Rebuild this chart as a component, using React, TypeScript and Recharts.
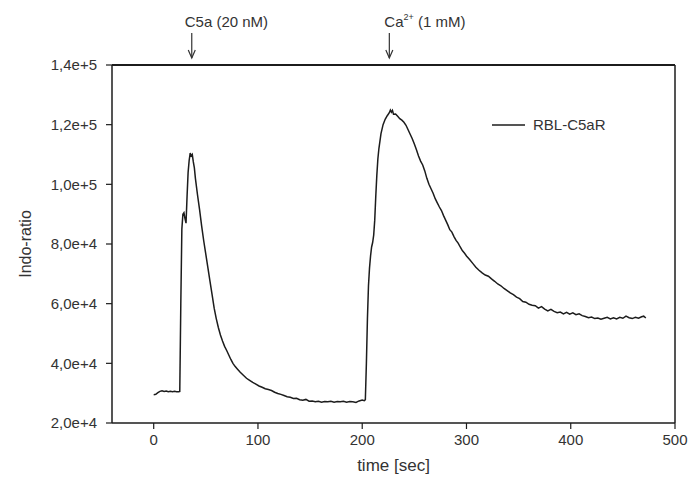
import React from 'react';
import { LineChart, Line, XAxis, YAxis, ReferenceLine, Legend } from 'recharts';

const seriesName = 'RBL-C5aR';

const times = [
  0, 2, 4, 6, 8, 10, 12, 14, 16, 18, 20, 22, 24, 25, 26, 27, 28, 29, 30, 31, 32, 33, 34, 35, 36, 37, 38, 39, 40,
  42, 44, 46, 48, 50, 52, 54, 56, 58, 60, 62, 64, 66, 68, 70, 72, 74, 76, 78, 80, 83, 86, 89, 92, 95, 98, 101,
  104, 107, 110, 113, 116, 119, 122, 125, 128, 131, 134, 137, 140, 143, 146, 149, 152, 155, 158, 161, 164, 167,
  170, 173, 176, 179, 182, 185, 188, 191, 194, 197, 200, 202, 203, 204, 205, 206, 207, 208, 209, 210, 211, 212,
  213, 214, 215, 216, 218, 220, 222, 224, 226, 227, 228, 229, 230, 232, 234, 236, 238, 240, 242, 244, 246, 248,
  250, 252, 254, 256, 258, 260, 262, 264, 266, 268, 270, 272, 274, 276, 278, 280, 282, 284, 286, 288, 290, 292,
  294, 296, 298, 300, 303, 306, 309, 312, 315, 318, 321, 324, 327, 330, 333, 336, 339, 342, 345, 348, 351, 354,
  357, 360, 363, 366, 369, 372, 375, 378, 381, 384, 387, 390, 393, 396, 399, 402, 405, 408, 411, 414, 417, 420,
  423, 426, 429, 432, 435, 438, 441, 444, 447, 450, 453, 456, 459, 462, 465, 468, 470, 472,
];

const ratios = [
  29500, 29600, 30200, 30600, 30800, 30600, 30700, 30500, 30600, 30500, 30600, 30500, 30500, 30600, 60000, 85000,
  90000, 90500, 88500, 87000, 96000, 104000, 108000, 110500, 109500, 110000, 107500, 105500, 102000,
  96500, 91500, 86000, 81000, 76500, 72000, 67500, 63000, 58500, 55000, 52000, 49500, 47500, 45700, 44300, 42800,
  41300, 40000, 39000, 38200, 37000, 36000, 35000, 34300, 33600, 33000, 32400,
  32000, 31500, 31200, 30900, 30300, 29900, 29600, 29200, 28800, 28600, 28200, 28300, 27800, 27600, 27900, 27300,
  27400, 27100, 27300, 27000, 27200, 27100,
  27300, 27000, 27200, 27100, 27300, 27000, 27200, 27100, 26900, 27400, 27700, 27500, 27800, 40000, 55000, 66000,
  72000, 76000, 79000, 80500, 83000, 88000,
  96000, 103000, 108500, 112000, 117000, 120000, 121800, 123000, 124000, 124900, 124200, 124800, 123500, 123600,
  122800, 122000, 121500, 120800, 119800, 118300, 116800, 115300,
  113500, 111600, 109500, 107800, 106500, 104500, 102000, 100000, 98500, 97000, 95200, 93800, 92400, 91200, 89500,
  88000, 86500, 84800, 84000, 82500, 81200, 80300,
  79000, 77800, 77000, 76000, 74800, 73500, 72200, 71200, 70300, 69600, 69200, 68300, 67500, 66600, 66000, 65100,
  64400, 63600, 63000, 62200, 61700, 60700,
  60500, 59800, 59500, 59300, 58500, 59000, 58200, 57600, 58100, 57400, 57000, 57200, 56600, 57100, 56500, 56900,
  56300, 56600, 56000, 55700, 55300, 55500,
  55000, 55200, 54800, 55100, 55400, 54900, 55300, 54900, 55400, 55100, 55800, 55300, 55000, 55400, 55100, 55600,
  55800, 55200,
];

const xTicks = [0, 100, 200, 300, 400, 500];
const yTicks = [20000, 40000, 60000, 80000, 100000, 120000, 140000];
const xDomain = [-40, 500];
const yDomain = [20000, 140000];

const stimulusTimes = [36.5, 226];
const stimulusLabels = ['C5a (20 nM)', 'Ca2+ (1 mM)'];

const data = times.map((t, i) => ({ t, y: ratios[i] }));

const FONT = '"Liberation Sans", Arial, sans-serif';
const TEXT = '#333';
const INK = '#1c1c1c';

const fmtY = (v: number) => {
  const e = Math.floor(Math.log10(v) + 1e-9);
  const m = v / Math.pow(10, e);
  return m.toFixed(1).replace('.', ',') + 'e+' + e;
};

const makeArrow = (label: string) => (props: any) => {
  const x = props.x1;
  const top = Math.min(props.y1, props.y2);
  const a0 = top - 32;
  const a1 = top - 7;
  let text: React.ReactNode;
  if (label.startsWith('Ca2+')) {
    text = (
      <text x={x - 5} y={top - 38} fill={TEXT} fontSize={15} fontFamily={FONT} textAnchor="start">
        Ca
        <tspan fontSize={9} dy={-7}>2+</tspan>
        <tspan dy={7}> (1 mM)</tspan>
      </text>
    );
  } else {
    text = (
      <text x={x - 7} y={top - 38} fill={TEXT} fontSize={15} fontFamily={FONT} textAnchor="start">
        {label}
      </text>
    );
  }
  return (
    <g>
      {text}
      <line x1={x} y1={a0} x2={x} y2={a1} stroke={TEXT} strokeWidth={1.2} />
      <path d={`M${x - 3.5},${a1 - 8} L${x},${a1} L${x + 3.5},${a1 - 8}`} fill="none" stroke={TEXT} strokeWidth={1.2} />
    </g>
  );
};

const LegendContent = () => (
  <svg width={120} height={20} style={{ display: 'block' }}>
    <line x1={0} y1={10} x2={33} y2={10} stroke={INK} strokeWidth={1.5} />
    <text x={41} y={15} fill={TEXT} fontSize={15} fontFamily={FONT}>
      {seriesName}
    </text>
  </svg>
);

export default function App() {
  return (
    <div style={{ position: 'absolute', left: 0, top: 0, width: 688, height: 479, background: '#fff' }}>
      <LineChart
        width={688}
        height={479}
        data={data}
        margin={{ top: 65, right: 13, bottom: 0, left: 0 }}
        style={{ fontFamily: FONT }}
      >
        <XAxis
          dataKey="t"
          type="number"
          domain={xDomain}
          ticks={xTicks}
          height={56}
          tickSize={6}
          tickMargin={5}
          axisLine={{ stroke: INK, strokeWidth: 1.5 }}
          tickLine={{ stroke: INK, strokeWidth: 1.2 }}
          tick={{ fill: TEXT, fontSize: 15, fontFamily: FONT }}
          label={{
            content: (p: any) => {
              const vb = p.viewBox;
              return (
                <text x={vb.x + vb.width / 2} y={vb.y + 48} textAnchor="middle" fill={TEXT} fontSize={17} fontFamily={FONT}>
                  time [sec]
                </text>
              );
            },
          }}
        />
        <YAxis
          type="number"
          domain={yDomain}
          ticks={yTicks}
          width={112}
          tickSize={6}
          tickMargin={9}
          tickFormatter={fmtY}
          axisLine={{ stroke: INK, strokeWidth: 1.5 }}
          tickLine={{ stroke: INK, strokeWidth: 1.2 }}
          tick={{ fill: TEXT, fontSize: 15, fontFamily: FONT }}
          label={{
            content: (p: any) => {
              const vb = p.viewBox;
              const cx = vb.x + 25;
              const cy = vb.y + vb.height / 2;
              return (
                <text x={cx} y={cy} transform={`rotate(-90, ${cx}, ${cy})`} textAnchor="middle" dominantBaseline="central" fill={TEXT} fontSize={16} fontFamily={FONT}>
                  Indo-ratio
                </text>
              );
            },
          }}
        />
        <ReferenceLine y={yDomain[1]} stroke={INK} strokeWidth={2} ifOverflow="visible" />
        <ReferenceLine x={xDomain[1]} stroke={INK} strokeWidth={1.5} ifOverflow="visible" />
        {stimulusTimes.map((t, i) => (
          <ReferenceLine key={i} x={t} ifOverflow="visible" stroke="none" shape={makeArrow(stimulusLabels[i])} />
        ))}
        <Legend
          layout="horizontal"
          verticalAlign="middle"
          align="center"
          content={() => <LegendContent />}
          wrapperStyle={{ position: 'absolute', left: 492, top: 115, width: 130, height: 20 }}
        />
        <Line
          type="linear"
          dataKey="y"
          name={seriesName}
          stroke={INK}
          strokeWidth={1.5}
          dot={false}
          isAnimationActive={false}
        />
      </LineChart>
    </div>
  );
}
